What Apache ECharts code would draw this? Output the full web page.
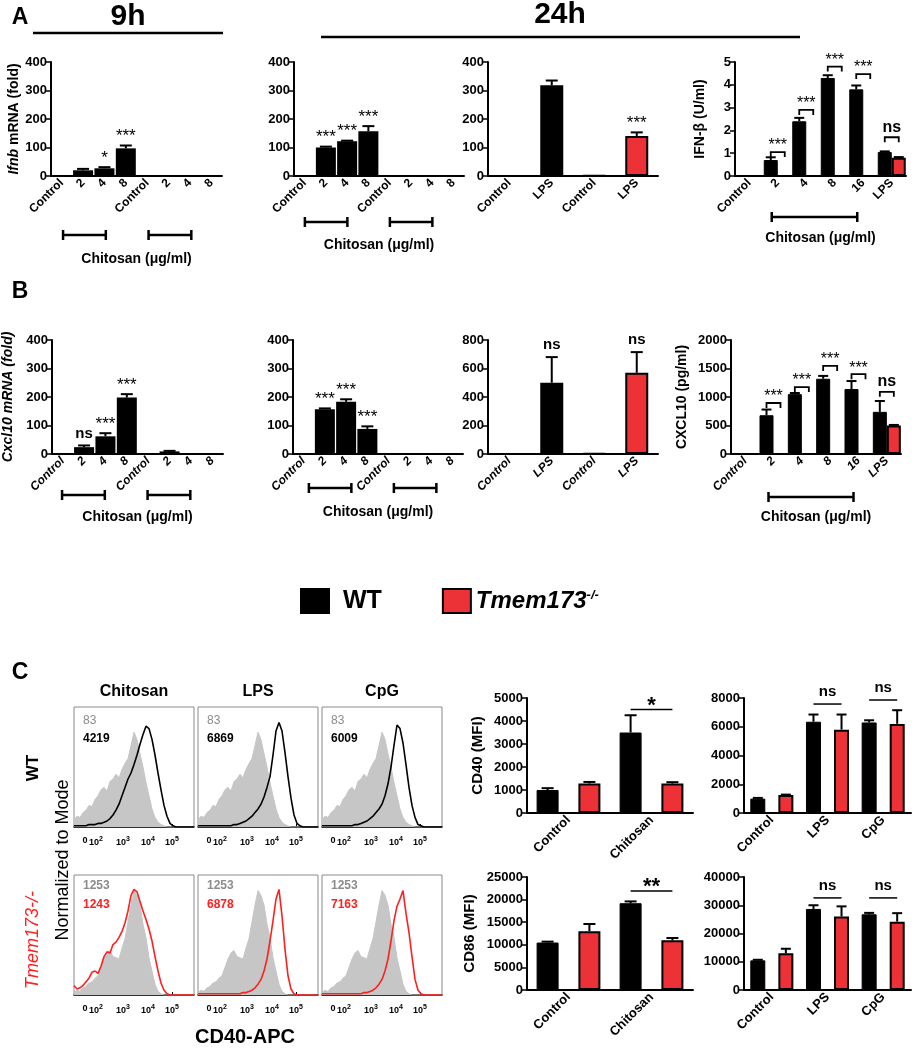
<!DOCTYPE html>
<html><head><meta charset="utf-8">
<script src="https://cdn.jsdelivr.net/npm/echarts@6/dist/echarts.min.js"></script>
<style>html,body{margin:0;padding:0;background:#fff}#c{width:918px;height:1050px}</style>
</head><body><div id="c"></div>
<script>
// ---------------- DATA ----------------
const catsDose8 = ['Control','2','4','8','Control','2','4','8'];
const catsLps = ['Control','LPS','Control','LPS'];
const catsDose6 = ['Control','2','4','8','16','LPS'];
const catsC1 = ['Control','Chitosan'];
const catsC2 = ['Control','LPS','CpG'];

// A: Ifnb mRNA 9h (WT group then Tmem173-/- group)
const ifnb9h    = [2, 20, 27, 97, 1, 2, 2, 2];
const ifnb9hErr = [null, 25, 31, 107, null, null, null, null];
const ifnb9hSig = ['', '', '*', '***', '', '', '', ''];
// A: Ifnb mRNA 24h
const ifnb24h    = [1, 100, 122, 157, 1, 2, 2, 2];
const ifnb24hErr = [null, 103, 124, 175, null, null, null, null];
const ifnb24hSig = ['', '***', '***', '***', '', '', '', ''];
// A: Ifnb LPS 24h (WT, WT, KO, KO)
const ifnbLps    = [2, 318, 2, 140];
const ifnbLpsErr = [null, 335, null, 153];
const ifnbLpsSig = ['', '', '', '***'];
const lpsGenotype = ['WT', 'WT', 'KO', 'KO'];
// A: IFN-beta protein
const ifnProtWT    = [0, 0.7, 2.4, 4.3, 3.8, 1.05];
const ifnProtWTErr = [null, 0.82, 2.55, 4.42, 3.97, 1.08];
const ifnProtKO    = [0, 0, 0, 0, 0, 0.8];
const ifnProtKOErr = [null, null, null, null, null, 0.83];
const ifnProtSig   = ['', '***', '***', '***', '***', 'ns'];
const ifnProtSigAt = [null, 1.05, 2.9, 4.8, 4.47, 1.7];

// B: Cxcl10 mRNA 9h
const cxcl9h    = [2, 24, 62, 198, 1, 9, 3, 2];
const cxcl9hErr = [null, 30, 73, 210, null, 11, null, null];
const cxcl9hSig = ['', 'ns', '***', '***', '', '', '', ''];
// B: Cxcl10 mRNA 24h
const cxcl24h    = [2, 157, 183, 88, 1, 2, 2, 2];
const cxcl24hErr = [null, 160, 192, 97, null, null, null, null];
const cxcl24hSig = ['', '***', '***', '***', '', '', '', ''];
// B: Cxcl10 LPS
const cxclLps    = [2, 500, 5, 570];
const cxclLpsErr = [null, 680, null, 715];
const cxclLpsSig = ['', 'ns', '', 'ns'];
// B: CXCL10 protein
const cxclProtWT    = [0, 680, 1050, 1320, 1140, 740];
const cxclProtWTErr = [null, 780, 1070, 1370, 1280, 930];
const cxclProtKO    = [0, 0, 0, 0, 0, 500];
const cxclProtKOErr = [null, null, null, null, null, 510];
const cxclProtSig   = ['', '***', '***', '***', '***', 'ns'];
const cxclProtSigAt = [null, 895, 1175, 1545, 1400, 1090];

// C: CD40 / CD86 MFI
const cd40aWT = [1000, 3500],  cd40aWTErr = [1080, 4250];
const cd40aKO = [1280, 1280],  cd40aKOErr = [1350, 1340];
const cd40aSig = ['', '*'],    cd40aSigAt = [null, 4500];
const cd40bWT = [1000, 6350, 6300], cd40bWTErr = [1050, 6850, 6450];
const cd40bKO = [1250, 5800, 6200], cd40bKOErr = [1280, 6850, 7150];
const cd40bSig = ['', 'ns', 'ns'],  cd40bSigAt = [null, 7580, 7860];
const cd86aWT = [10500, 19200], cd86aWTErr = [10700, 19600];
const cd86aKO = [13000, 11000], cd86aKOErr = [14600, 11500];
const cd86aSig = ['', '**'],    cd86aSigAt = [null, 21900];
const cd86bWT = [10500, 28700, 26800], cd86bWTErr = [10700, 30000, 27300];
const cd86bKO = [13000, 26000, 24200], cd86bKOErr = [14600, 29600, 27200];
const cd86bSig = ['', 'ns', 'ns'],     cd86bSigAt = [null, 32600, 32600];

// C: flow histograms (CD40-APC channel, % of mode)
const histX = [0,3,6,9,12,15,18,21,24,27,30,33,36,39,42,45,48,51,54,57,60,63,66,69,72,75,78,81,84,87,90,93,96,99,102,105,108,111,114,117,120];
const histTickPos = [11, 22, 49, 74, 98];
const histTickLabels = ['0', '10|2', '10|3', '10|4', '10|5'];
const histCtrlWT = [6,9,8,12,14,18,17,23,26,31,33,30,38,40,44,41,48,53,57,68,79,73,61,50,37,26,15,8,4,2,1,0,0,0,0,0,0,0,0,0,0];
const histCtrlKO = [2,4,3,6,7,10,11,14,16,23,30,35,37,32,31,30,39,47,61,75,87,83,75,59,48,31,20,9,3,1,0,0,0,0,0,0,0,0,0,0,0];
const histChitWT = [1,1,1,1,1,2,2,2,3,3,4,5,7,10,14,19,26,33,40,45,52,60,69,77,84,82,73,60,45,31,18,9,3,1,0,0,0,0,0,0,0];
const histLpsWT  = [1,1,1,1,1,1,1,1,1,1,1,1,2,2,3,4,5,7,9,12,15,19,25,33,42,60,80,87,80,62,42,24,10,3,1,0,0,0,0,0,0];
const histCpgWT  = [1,1,1,1,1,1,1,1,1,1,1,2,2,3,4,5,7,9,12,15,19,26,36,50,68,85,82,70,52,33,18,8,2,1,0,0,0,0,0,0,0];
const histChitKO = [8,5,6,8,11,14,19,20,18,24,32,36,35,42,44,48,53,60,70,83,88,86,78,70,63,55,45,32,20,10,4,1,0,0,0,0,0,0,0,0,0];
const histLpsKO  = [1,1,1,1,1,1,1,1,1,1,1,1,1,1,1,2,2,3,4,6,9,13,20,30,45,62,80,88,66,38,16,5,1,0,0,0,0,0,0,0,0];
const histCpgKO  = [1,1,1,1,1,1,1,1,1,1,1,1,1,1,2,2,3,4,6,9,13,20,30,45,62,74,80,87,68,52,32,13,4,1,0,0,0,0,0,0,0];
const mfiCtrlWT = '83', mfiCtrlKO = '1253';
const mfiWT = ['4219', '6869', '6009'];
const mfiKO = ['1243', '6878', '7163'];
const histCols = ['Chitosan', 'LPS', 'CpG'];

// ---------------- BUILD ----------------
const FONT = 'Arial, "Liberation Sans", Helvetica, sans-serif';
const RED = '#ec3237';
const grids = [], xAxis = [], yAxis = [], series = [];

function addBarGrid(rect, cats, o) {
  const gi = grids.length;
  grids.push({left: rect[0], top: rect[1], width: rect[2], height: rect[3]});
  xAxis.push({gridIndex: gi, type: 'category', data: cats,
    axisLine: {lineStyle: {color: '#000', width: 2}},
    axisTick: {alignWithLabel: true, length: 5, lineStyle: {color: '#000', width: 1.5}},
    axisLabel: {rotate: 45, interval: 0, margin: 5, color: '#000', fontFamily: FONT, fontWeight: 'bold',
      fontSize: o.xFont || 12, fontStyle: o.italicX ? 'italic' : 'normal'},
    name: o.xName || '', nameLocation: 'middle', nameGap: o.xNameGap || 0,
    nameTextStyle: {fontFamily: FONT, fontWeight: 'bold', fontSize: 14, color: '#000'}});
  yAxis.push({gridIndex: gi, type: 'value', min: 0, max: o.yMax, interval: o.yInt,
    axisLine: {show: true, lineStyle: {color: '#000', width: 2}},
    axisTick: {show: true, length: 5, lineStyle: {color: '#000', width: 1.5}},
    splitLine: {show: false},
    axisLabel: {color: '#000', fontFamily: FONT, fontWeight: 'bold', fontSize: o.yFont || 13, margin: 4,
      formatter: v => String(v)},
    name: o.yName, nameLocation: 'middle', nameRotate: 90, nameGap: o.yNameGap,
    nameTextStyle: {fontFamily: FONT, fontWeight: 'bold', fontSize: o.yNameSize || 14, color: '#000',
      fontStyle: o.yNameItalic ? 'italic' : 'normal',
      rich: {i: {fontFamily: FONT, fontWeight: 'bold', fontStyle: 'italic', fontSize: 14, color: '#000'}}}});
  return gi;
}

function line(x1, y1, x2, y2, w) {
  return {type: 'line', shape: {x1, y1, x2, y2}, style: {stroke: '#000', lineWidth: w || 2}};
}

function errSeries(gi, vals, errs, dx, cap) {
  const d = [];
  vals.forEach((v, i) => { if (errs[i] != null) d.push([i, v, errs[i]]); });
  return {type: 'custom', xAxisIndex: gi, yAxisIndex: gi, silent: true, z: 4, data: d,
    renderItem: (p, api) => {
      const a = api.coord([api.value(0), api.value(1)]);
      const b = api.coord([api.value(0), api.value(2)]);
      const x = a[0] + dx;
      return {type: 'group', children: [line(x, a[1], x, b[1]), line(x - cap / 2, b[1], x + cap / 2, b[1])]};
    }};
}

function sigSeries(gi, vals, errs, sigs, o) {
  const d = [], lab = [];
  sigs.forEach((s, i) => { if (s) { d.push([i, errs[i] != null ? errs[i] : vals[i]]); lab.push(s); } });
  return {type: 'custom', xAxisIndex: gi, yAxisIndex: gi, silent: true, z: 5, data: d,
    renderItem: (p, api) => {
      const a = api.coord([api.value(0), api.value(1)]);
      const s = lab[p.dataIndex];
      const star = s.indexOf('*') >= 0;
      return {type: 'text', x: a[0], y: a[1] - (star ? o.gapStar : o.gapNs),
        style: {text: s, align: 'center', verticalAlign: 'middle',
          font: star ? o.starFont : o.nsFont, fill: '#000'}};
    }};
}

function axisBracketSeries(gi, ranges, dy, dx) {
  return {type: 'custom', xAxisIndex: gi, yAxisIndex: gi, silent: true, clip: false, z: 5, data: ranges,
    renderItem: (p, api) => {
      const a = api.coord([api.value(0), 0]);
      const b = api.coord([api.value(1), 0]);
      const y = a[1] + dy, x1 = a[0] + dx, x2 = b[0] + dx;
      return {type: 'group', children: [line(x1, y, x2, y, 2.5), line(x1, y - 5, x1, y + 5, 2.5), line(x2, y - 5, x2, y + 5, 2.5)]};
    }};
}

function pairSigSeries(gi, levels, labels, half, o) {
  const d = [], lab = [];
  levels.forEach((l, i) => { if (l != null && labels[i]) { d.push([i, l]); lab.push(labels[i]); } });
  return {type: 'custom', xAxisIndex: gi, yAxisIndex: gi, silent: true, z: 5, data: d,
    renderItem: (p, api) => {
      const a = api.coord([api.value(0), api.value(1)]);
      const s = lab[p.dataIndex];
      const star = s.indexOf('*') >= 0;
      const ch = [];
      if (o.legs) {
        ch.push({type: 'polyline', shape: {points: [[a[0] - half, a[1] + o.legs], [a[0] - half, a[1]], [a[0] + half, a[1]], [a[0] + half, a[1] + o.legs]]},
          style: {stroke: '#000', lineWidth: 1.8, fill: null}});
      } else {
        ch.push(line(a[0] - half, a[1], a[0] + half, a[1], 1.5));
      }
      ch.push({type: 'text', x: a[0], y: a[1] - (star ? o.gapStar : o.gapNs),
        style: {text: s, align: 'center', verticalAlign: 'middle', font: star ? o.starFont : o.nsFont, fill: '#000'}});
      return {type: 'group', children: ch};
    }};
}

const smallSig = {gapStar: 9, gapNs: 12, starFont: 'normal 17px ' + FONT, nsFont: 'bold 15px ' + FONT};

function singleChart(rect, cats, vals, errs, sigs, o) {
  const gi = addBarGrid(rect, cats, o);
  series.push({type: 'bar', name: o.name, xAxisIndex: gi, yAxisIndex: gi, barWidth: o.barWidth, silent: true,
    data: vals.map((v, i) => ({value: v, itemStyle: (o.genotype && o.genotype[i] === 'KO')
      ? {color: RED, borderColor: '#000', borderWidth: 2} : {color: '#000'}}))});
  series.push(errSeries(gi, vals, errs, 0, 12));
  series.push(sigSeries(gi, vals, errs, sigs, smallSig));
  if (o.brackets) series.push(axisBracketSeries(gi, o.brackets, o.brDy, o.brDx));
  return gi;
}

function pairChart(rect, cats, wt, wtErr, ko, koErr, o) {
  const gi = addBarGrid(rect, cats, o);
  const off = o.barWidth * (1 + o.gapFrac) / 2;
  series.push({type: 'bar', name: 'WT', xAxisIndex: gi, yAxisIndex: gi, barWidth: o.barWidth,
    barGap: (o.gapFrac * 100) + '%', silent: true, data: wt,
    itemStyle: {color: '#000', borderColor: '#000', borderWidth: 1}});
  series.push({type: 'bar', name: 'Tmem173-/-', xAxisIndex: gi, yAxisIndex: gi, barWidth: o.barWidth,
    barGap: (o.gapFrac * 100) + '%', silent: true, data: ko,
    itemStyle: {color: RED, borderColor: '#000', borderWidth: 2}});
  series.push(errSeries(gi, wt, wtErr, -off, o.cap));
  series.push(errSeries(gi, ko, koErr, off, o.cap));
  series.push(pairSigSeries(gi, o.sigAt, o.sig, off, o.sigStyle));
  if (o.brackets) series.push(axisBracketSeries(gi, o.brackets, o.brDy, o.brDx));
  return gi;
}

// ---- Panel A ----
singleChart([51, 62, 171, 114], catsDose8, ifnb9h, ifnb9hErr, ifnb9hSig,
  {name: 'Ifnb 9h', yMax: 400, yInt: 100, yName: '{i|Ifnb} mRNA (fold)', yNameGap: 29, barWidth: 20,
   xName: 'Chitosan (μg/ml)', xNameGap: 76, brackets: [[1, 3], [5, 7]], brDy: 59, brDx: -20});
singleChart([294, 62, 170, 114], catsDose8, ifnb24h, ifnb24hErr, ifnb24hSig,
  {name: 'Ifnb 24h', yMax: 400, yInt: 100, yName: '', yNameGap: 30, barWidth: 20,
   xName: 'Chitosan (μg/ml)', xNameGap: 62, brackets: [[1, 3], [5, 7]], brDy: 46, brDx: -21});
singleChart([488, 62, 170, 114], catsLps, ifnbLps, ifnbLpsErr, ifnbLpsSig,
  {name: 'Ifnb LPS', yMax: 400, yInt: 100, yName: '', yNameGap: 30, barWidth: 23, genotype: lpsGenotype});
pairChart([735, 62, 171, 114], catsDose6, ifnProtWT, ifnProtWTErr, ifnProtKO, ifnProtKOErr,
  {yMax: 5, yInt: 1, yName: 'IFN-β (U/ml)', yNameGap: 28, barWidth: 14, gapFrac: 0, cap: 10,
   xName: 'Chitosan (μg/ml)', xNameGap: 55, brackets: [[1, 4]], brDy: 41, brDx: -6,
   sig: ifnProtSig, sigAt: ifnProtSigAt,
   sigStyle: {legs: 5, gapStar: 6, gapNs: 10, starFont: 'normal 16px ' + FONT, nsFont: 'bold 16px ' + FONT}});

// ---- Panel B ----
singleChart([52, 340, 171, 114], catsDose8, cxcl9h, cxcl9hErr, cxcl9hSig,
  {name: 'Cxcl10 9h', yMax: 400, yInt: 100, yName: 'Cxcl10 mRNA (fold)', yNameItalic: true, yNameGap: 37, barWidth: 20,
   italicX: true, xName: 'Chitosan (μg/ml)', xNameGap: 56, brackets: [[1, 3], [5, 7]], brDy: 41, brDx: -22});
singleChart([293, 340, 170, 114], catsDose8, cxcl24h, cxcl24hErr, cxcl24hSig,
  {name: 'Cxcl10 24h', yMax: 400, yInt: 100, yName: '', yNameGap: 30, barWidth: 20,
   italicX: true, xName: 'Chitosan (μg/ml)', xNameGap: 51, brackets: [[1, 3], [5, 7]], brDy: 34, brDx: -16});
singleChart([488, 340, 170, 114], catsLps, cxclLps, cxclLpsErr, cxclLpsSig,
  {name: 'Cxcl10 LPS', yMax: 800, yInt: 200, yName: '', yNameGap: 30, barWidth: 23, genotype: lpsGenotype, italicX: true});
pairChart([731, 340, 170, 114], catsDose6, cxclProtWT, cxclProtWTErr, cxclProtKO, cxclProtKOErr,
  {yMax: 2000, yInt: 500, yName: 'CXCL10 (pg/ml)', yNameGap: 42, barWidth: 14, gapFrac: 0, cap: 10,
   italicX: true, xName: 'Chitosan (μg/ml)', xNameGap: 56, brackets: [[1, 4]], brDy: 43, brDx: -5,
   sig: cxclProtSig, sigAt: cxclProtSigAt,
   sigStyle: {legs: 5, gapStar: 6, gapNs: 10, starFont: 'normal 16px ' + FONT, nsFont: 'bold 16px ' + FONT}});

// ---- Panel C bars ----
const bigSig = {legs: 0, gapStar: 4, gapNs: 12, starFont: 'bold 22px ' + FONT, nsFont: 'bold 15px ' + FONT};
pairChart([527, 698, 166, 115], catsC1, cd40aWT, cd40aWTErr, cd40aKO, cd40aKOErr,
  {yMax: 5000, yInt: 1000, yName: 'CD40 (MFI)', yNameGap: 42, yNameSize: 15, barWidth: 22, gapFrac: 0.9, cap: 12, xFont: 13,
   sig: cd40aSig, sigAt: cd40aSigAt, sigStyle: bigSig});
pairChart([744, 698, 167, 115], catsC2, cd40bWT, cd40bWTErr, cd40bKO, cd40bKOErr,
  {yMax: 8000, yInt: 2000, yName: '', yNameGap: 40, barWidth: 15, gapFrac: 0.87, cap: 10, xFont: 13,
   sig: cd40bSig, sigAt: cd40bSigAt, sigStyle: bigSig});
pairChart([527, 877, 166, 113], catsC1, cd86aWT, cd86aWTErr, cd86aKO, cd86aKOErr,
  {yMax: 25000, yInt: 5000, yName: 'CD86 (MFI)', yNameGap: 50, yNameSize: 15, barWidth: 22, gapFrac: 0.9, cap: 12, xFont: 13,
   sig: cd86aSig, sigAt: cd86aSigAt, sigStyle: bigSig});
pairChart([744, 877, 167, 113], catsC2, cd86bWT, cd86bWTErr, cd86bKO, cd86bKOErr,
  {yMax: 40000, yInt: 10000, yName: '', yNameGap: 40, barWidth: 15, gapFrac: 0.87, cap: 10, xFont: 13,
   sig: cd86bSig, sigAt: cd86bSigAt, sigStyle: bigSig});

// ---- Panel C histograms ----
function addHist(left, top, ctrl, stim, color) {
  const gi = grids.length;
  grids.push({left: left, top: top, width: 120, height: 120, show: true, borderColor: '#8a8a8a', borderWidth: 1});
  xAxis.push({gridIndex: gi, type: 'value', min: 0, max: 120,
    axisLine: {lineStyle: {color: '#000', width: 1.5}},
    axisTick: {show: true, customValues: histTickPos, inside: true, length: 3, lineStyle: {color: '#000'}},
    splitLine: {show: false},
    axisLabel: {customValues: histTickPos, margin: 9,
      formatter: v => { const k = histTickPos.indexOf(v); const t = histTickLabels[k] || ''; const parts = t.split('|');
        return parts.length > 1 ? '{n|' + parts[0] + '}{s|' + parts[1] + '}' : '{n|' + parts[0] + '}'; },
      rich: {n: {fontFamily: FONT, fontWeight: 'bold', fontSize: 9, color: '#000'},
             s: {fontFamily: FONT, fontWeight: 'bold', fontSize: 7, color: '#000', verticalAlign: 'top', padding: [0, 0, 6, 0]}}}});
  yAxis.push({gridIndex: gi, type: 'value', min: 0, max: 100, show: false});
  series.push({type: 'line', xAxisIndex: gi, yAxisIndex: gi, silent: true, symbol: 'none', z: 2,
    data: histX.map((x, i) => [x, ctrl[i]]),
    lineStyle: {color: '#c6c6c6', width: 1}, areaStyle: {color: '#c6c6c6', opacity: 1}});
  series.push({type: 'line', xAxisIndex: gi, yAxisIndex: gi, silent: true, symbol: 'none', z: 3,
    data: histX.map((x, i) => [x, stim[i]]),
    lineStyle: {color: color, width: 1.6}});
}
const histLefts = [74, 198, 322];
const stimWT = [histChitWT, histLpsWT, histCpgWT];
const stimKO = [histChitKO, histLpsKO, histCpgKO];
histLefts.forEach((l, k) => {
  addHist(l, 707, histCtrlWT, stimWT[k], '#000');
  addHist(l, 875, histCtrlKO, stimKO[k], '#ff1f1f');
});

// ---- Text graphics ----
const g = [];
function txt(x, y, text, font, fill, extra) {
  g.push(Object.assign({type: 'text', x: x, y: y, silent: true,
    style: {text: text, font: font, fill: fill || '#000', align: 'center', verticalAlign: 'middle'}}, extra || {}));
}
txt(20, 18, 'A', 'bold 23px ' + FONT);
txt(20, 292, 'B', 'bold 23px ' + FONT);
txt(20, 673, 'C', 'bold 23px ' + FONT);
txt(128, 17, '9h', 'bold 30px ' + FONT);
txt(560, 15, '24h', 'bold 30px ' + FONT);
g.push({type: 'line', silent: true, shape: {x1: 33, y1: 33, x2: 223, y2: 33}, style: {stroke: '#000', lineWidth: 2.5}});
g.push({type: 'line', silent: true, shape: {x1: 321, y1: 37, x2: 800, y2: 37}, style: {stroke: '#000', lineWidth: 2.5}});
histCols.forEach((t, k) => txt(histLefts[k] + 60, 692, t, 'bold 16px ' + FONT));
txt(33, 768, 'WT', 'bold 17px ' + FONT, '#000', {rotation: Math.PI / 2});
txt(33, 940, 'Tmem173-/-', 'italic 18px ' + FONT, '#ff1f1f', {rotation: Math.PI / 2});
txt(63, 860, 'Normalized to Mode', 'normal 18px ' + FONT, '#000', {rotation: Math.PI / 2});
txt(245, 1037, 'CD40-APC', 'bold 20px ' + FONT);
histLefts.forEach((l, k) => {
  g.push({type: 'text', x: l + 9, y: 721, silent: true, style: {text: mfiCtrlWT, font: 'normal 12px ' + FONT, fill: '#8c8c8c', align: 'left', verticalAlign: 'middle'}});
  g.push({type: 'text', x: l + 9, y: 739, silent: true, style: {text: mfiWT[k], font: 'bold 12px ' + FONT, fill: '#000', align: 'left', verticalAlign: 'middle'}});
  g.push({type: 'text', x: l + 9, y: 886, silent: true, style: {text: mfiCtrlKO, font: 'bold 12px ' + FONT, fill: '#8c8c8c', align: 'left', verticalAlign: 'middle'}});
  g.push({type: 'text', x: l + 9, y: 905, silent: true, style: {text: mfiKO[k], font: 'bold 12px ' + FONT, fill: '#ff1f1f', align: 'left', verticalAlign: 'middle'}});
});

const chart = echarts.init(document.getElementById('c'), null, {renderer: 'canvas'});
chart.setOption({
  animation: false,
  backgroundColor: '#fff',
  grid: grids, xAxis: xAxis, yAxis: yAxis, series: series, graphic: g,
  legend: {left: 295, top: 583, itemWidth: 28, itemHeight: 24, itemGap: 60, selectedMode: false,
    data: [{name: 'WT', icon: 'rect', itemStyle: {color: '#000'}},
           {name: 'Tmem173-/-', icon: 'rect', itemStyle: {color: RED, borderColor: '#000', borderWidth: 2}}],
    formatter: n => n === 'WT' ? '{b|WT}' : '{i|Tmem173}{s|-/-}',
    textStyle: {rich: {
      b: {fontFamily: FONT, fontSize: 25, fontWeight: 'bold', color: '#000', padding: [0, 0, 0, 9]},
      i: {fontFamily: FONT, fontSize: 24, fontWeight: 'bold', fontStyle: 'italic', color: '#000'},
      s: {fontFamily: FONT, fontSize: 13, fontWeight: 'bold', fontStyle: 'italic', color: '#000', verticalAlign: 'top', padding: [0, 0, 10, 0]}}}}
});
</script>
</body></html>
